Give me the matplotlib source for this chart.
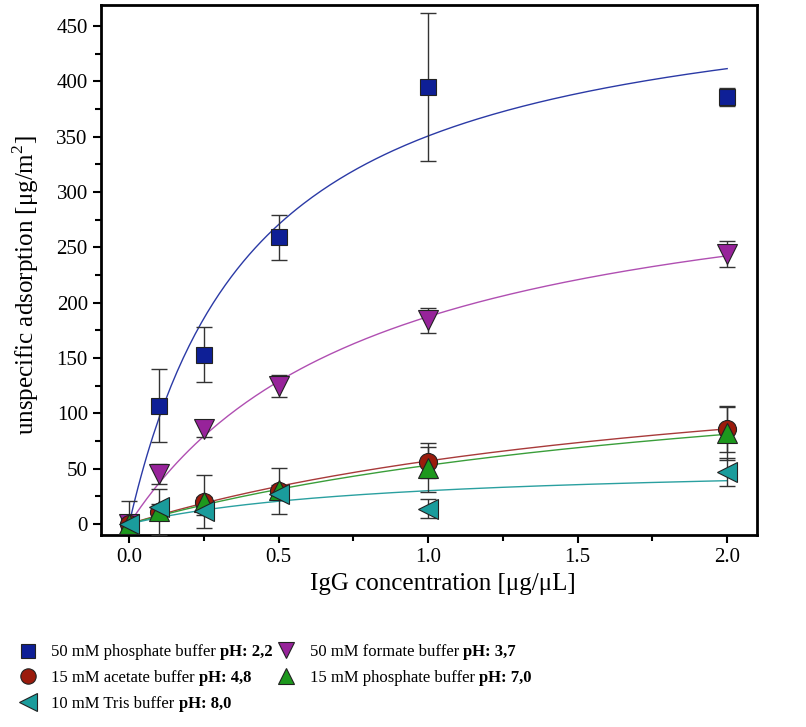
import numpy as np
import matplotlib
matplotlib.use("Agg")
from matplotlib import pyplot as plt
from matplotlib.ticker import MultipleLocator, FormatStrFormatter
from matplotlib.text import Annotation

plt.rcParams['font.family'] = ['Liberation Serif', 'DejaVu Serif']
plt.rcParams['mathtext.fontset'] = 'custom'
plt.rcParams['mathtext.rm'] = 'Liberation Serif'

# IgG concentration [ug/uL]
conc = [0.0, 0.1, 0.25, 0.5, 1.0, 2.0]

# unspecific adsorption [ug/m2] and error bars
ph22 = [0, 107, 153, 259, 395, 386]
ph22_err = [0, 33, 25, 20, 67, 8]
ph37 = [0, 45, 86, 125, 184, 244]
ph37_err = [0, 9, 7, 10, 11, 12]
ph48 = [0, 11, 20, 30, 56, 86]
ph48_err = [21, 21, 24, 21, 14, 21]
ph70 = [0, 12, 20, 31, 51, 82]
ph70_err = [0, 4, 4, 4, 22, 24]
ph80 = [0, 15, 12, 27, 14, 47]
ph80_err = [0, 3, 4, 4, 9, 13]

# Langmuir fit parameters: Bmax, Kd
fit_bmax = [498, 343, 175, 172, 56]
fit_kd = [0.42, 0.83, 2.07, 2.24, 0.86]

buffers = ['50 mM phosphate buffer', '50 mM formate buffer', '15 mM acetate buffer',
           '15 mM phosphate buffer', '10 mM Tris buffer']
ph_text = ['pH: 2,2', 'pH: 3,7', 'pH: 4,8', 'pH: 7,0', 'pH: 8,0']

ys = [ph22, ph37, ph48, ph70, ph80]
errs = [ph22_err, ph37_err, ph48_err, ph70_err, ph80_err]
markers = ['s', 'v', 'o', '^', '<']
msizes = [12, 14, 13, 14, 15]
face = ['#0e1f96', '#97239a', '#9b1b0c', '#1d981d', '#1a9c9c']
line_c = ['#2b3aa6', '#b04fb2', '#a83a3a', '#3a9e3a', '#2aa0a0']

fig = plt.figure(figsize=(8.06, 7.27), dpi=100)
ax = fig.add_axes([0.1253, 0.264, 0.814, 0.729])

xx = np.linspace(0, 2.0, 200)
handles = []
for i in range(5):
    ax.plot(xx, fit_bmax[i] * xx / (fit_kd[i] + xx), color=line_c[i], lw=1.0, zorder=2)
for i in range(5):
    ax.errorbar(conc, ys[i], yerr=errs[i], fmt='none', ecolor='#333333',
                elinewidth=1.0, capsize=6, capthick=1.0, zorder=3)
for i in range(5):
    h, = ax.plot(conc, ys[i], ls='none', marker=markers[i], ms=msizes[i],
                 mfc=face[i], mec='#222222', mew=0.8, zorder=4)
    handles.append(h)

ax.set_xlim(-0.094, 2.1)
ax.set_ylim(-10, 469)
ax.xaxis.set_major_locator(MultipleLocator(0.5))
ax.xaxis.set_minor_locator(MultipleLocator(0.25))
ax.yaxis.set_major_locator(MultipleLocator(50))
ax.yaxis.set_minor_locator(MultipleLocator(25))
ax.xaxis.set_major_formatter(FormatStrFormatter('%.1f'))
ax.tick_params(which='major', direction='out', length=6, width=1.5, labelsize=15)
ax.tick_params(axis='x', which='major', pad=3)
ax.tick_params(which='minor', direction='out', length=4, width=1.5)
for s in ax.spines.values():
    s.set_linewidth(2)

ax.set_xlabel('IgG concentration [μg/μL]', fontsize=18)
ax.set_ylabel('unspecific adsorption [μg/m$^2$]', fontsize=18)
ax.xaxis.set_label_coords(0.521, -0.072)
ax.yaxis.set_label_coords(-0.092, 0.472)

# legend in two columns, the pH part in bold
columns = [[0, 2, 4], [1, 3]]
col_x = [0.0246, 0.345]
col_y = [0.0674, 0.0853]
for c, idx in enumerate(columns):
    leg = fig.legend([handles[k] for k in idx], [buffers[k] + ' ' for k in idx],
                     loc='center left', bbox_to_anchor=(col_x[c], col_y[c]),
                     frameon=False, fontsize=12, handlelength=1.0, handletextpad=0.9,
                     labelspacing=0.58, borderaxespad=0, borderpad=0, markerscale=0.85)
    for t, k in zip(leg.get_texts(), idx):
        fig.add_artist(Annotation(ph_text[k], xy=(1, 0), xycoords=t,
                                  ha='left', va='bottom', fontsize=12,
                                  fontweight='bold', zorder=10))

fig.savefig('out.png', dpi=100)
